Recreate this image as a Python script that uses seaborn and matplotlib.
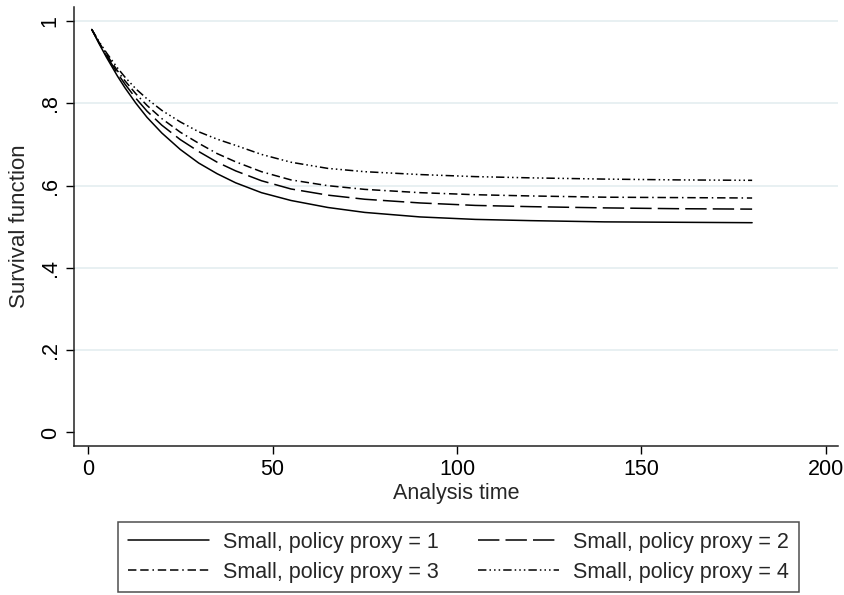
import matplotlib.pyplot as plt
import numpy as np
import pandas as pd
import seaborn as sb

# analysis time points
t = [1, 3, 5, 8, 10, 13, 16, 20, 25, 30, 35, 40, 47, 55, 65, 75, 90, 105, 120, 140, 160, 180]

s1 = [0.980, 0.945, 0.912, 0.866, 0.838, 0.800, 0.766, 0.728, 0.688, 0.655, 0.629, 0.607, 0.583, 0.564, 0.547, 0.535, 0.524, 0.518, 0.515, 0.512, 0.511, 0.510]
s2 = [0.980, 0.947, 0.916, 0.873, 0.847, 0.812, 0.781, 0.747, 0.712, 0.683, 0.657, 0.636, 0.612, 0.592, 0.577, 0.567, 0.558, 0.552, 0.549, 0.546, 0.544, 0.543]
s3 = [0.980, 0.948, 0.919, 0.879, 0.855, 0.823, 0.795, 0.763, 0.730, 0.703, 0.678, 0.658, 0.634, 0.614, 0.600, 0.591, 0.583, 0.578, 0.575, 0.572, 0.571, 0.570]
s4 = [0.980, 0.950, 0.923, 0.886, 0.864, 0.835, 0.811, 0.783, 0.755, 0.731, 0.713, 0.698, 0.676, 0.657, 0.642, 0.634, 0.627, 0.622, 0.619, 0.616, 0.614, 0.613]

labels = ["Small, policy proxy = 1", "Small, policy proxy = 2",
          "Small, policy proxy = 3", "Small, policy proxy = 4"]

df = pd.concat([pd.DataFrame({"time": t, "surv": s, "group": lab})
                for s, lab in zip([s1, s2, s3, s4], labels)])

sb.set_style("white")
plt.rcParams["font.family"] = ["Liberation Sans", "DejaVu Sans"]

dashes = {labels[0]: "",
          labels[1]: (14, 4),
          labels[2]: (5.5, 2.5, 5.5, 2.5, 1, 2.5),
          labels[3]: (5.5, 2, 1, 2, 1, 2, 1, 2)}

fig, ax = plt.subplots(figsize=(8.44, 5.95), dpi=100)
fig.subplots_adjust(left=0.0877, right=0.993, top=0.988, bottom=0.251)

sb.lineplot(data=df, x="time", y="surv", style="group", dashes=dashes,
            color="black", linewidth=1.1, ax=ax)

ax.set_xlim(-3.8, 203.3)
ax.set_ylim(-0.032, 1.034)
ax.set_xticks([0, 50, 100, 150, 200])
ax.set_yticks([0, 0.2, 0.4, 0.6, 0.8, 1])
ax.set_yticklabels(["0", ".2", ".4", ".6", ".8", "1"], rotation=90, va="center")
for y in [0.2, 0.4, 0.6, 0.8, 1]:
    ax.axhline(y, color="#e6eff1", lw=1.3, zorder=0)

ax.tick_params(axis="both", direction="out", length=6, width=1, labelsize=15.5,
               colors="black", pad=3.5)
ax.tick_params(left=True, bottom=True)
for side in ["top", "right"]:
    ax.spines[side].set_visible(False)
for side in ["left", "bottom"]:
    ax.spines[side].set_color("#222222")
    ax.spines[side].set_linewidth(1.1)

ax.set_xlabel("Analysis time", fontsize=15.5, labelpad=2)
ax.set_ylabel("Survival function", fontsize=16, labelpad=7)

# reorder so rows read 1,2 / 3,4
old = ax.get_legend()
handles = list(old.legend_handles)
texts = [tx.get_text() for tx in old.get_texts()]
old.remove()
order = [0, 2, 1, 3]
leg = ax.legend([handles[i] for i in order], [texts[i] for i in order],
                loc="upper center", bbox_to_anchor=(0.543, 0.1227),
                bbox_transform=fig.transFigure, ncol=2, frameon=True,
                fontsize=15.5, handlelength=3.8, handletextpad=0.64,
                columnspacing=1.8, borderpad=0.45, labelspacing=0.42,
                fancybox=False, edgecolor="#222222", borderaxespad=0)
leg.get_frame().set_linewidth(1.1)
for line in leg.get_lines():
    line.set_linewidth(1.1)

plt.savefig("out.png", dpi=100)
